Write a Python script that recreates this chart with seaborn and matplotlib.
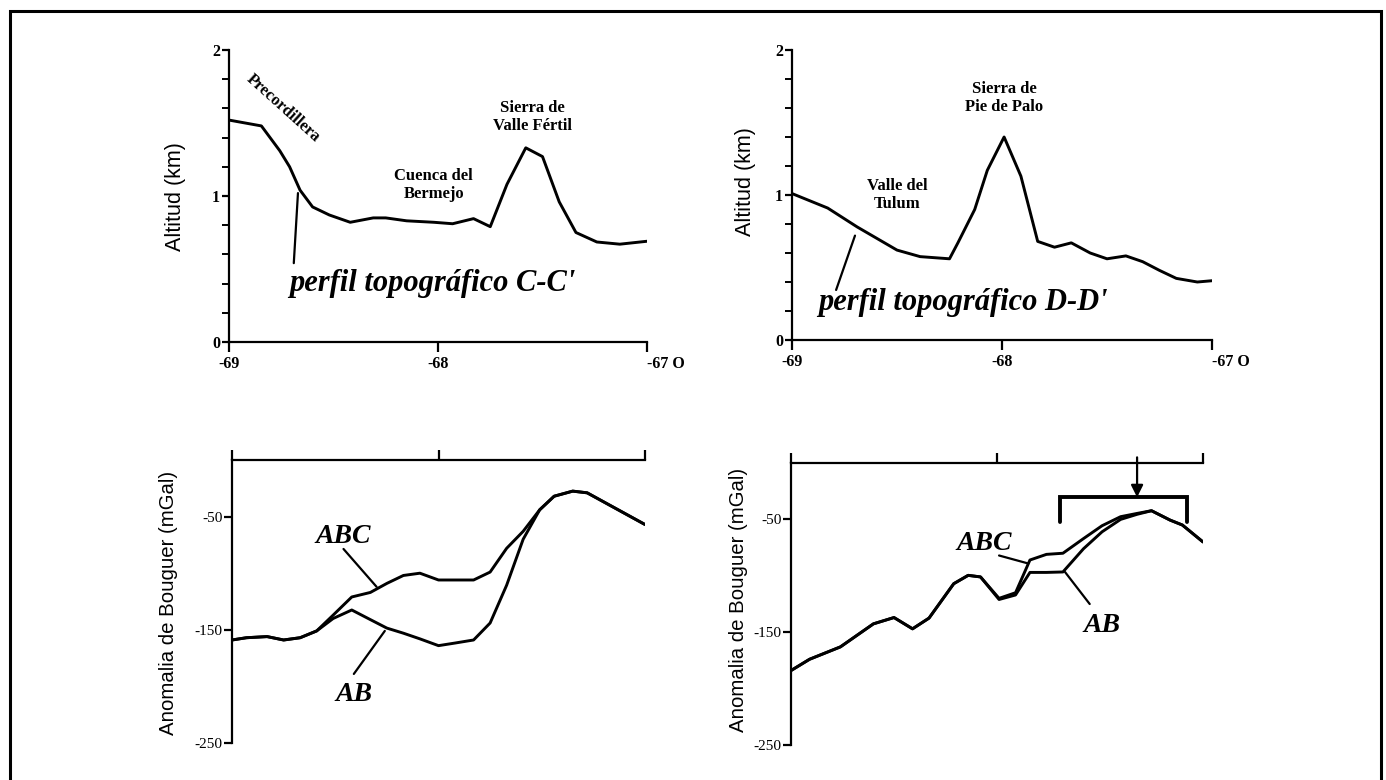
import numpy as np
import pandas as pd
import matplotlib
matplotlib.use("Agg")
import matplotlib.pyplot as plt
import seaborn as sns
from matplotlib.ticker import MultipleLocator, FixedLocator
from matplotlib.font_manager import FontProperties

sns.set_theme(style="ticks")
plt.rcParams["font.family"] = ["Liberation Serif", "DejaVu Serif"]
plt.rcParams.update({
    "axes.linewidth": 1.6,
    "axes.edgecolor": "black",
    "axes.labelcolor": "black",
    "text.color": "black",
    "xtick.color": "black",
    "ytick.color": "black",
    "xtick.major.width": 1.6,
    "ytick.major.width": 1.6,
    "ytick.minor.width": 1.4,
})

# ---- Topographic profile C-C' (longitude, altitude km)
lon_cc = [-69.0, -68.845, -68.757, -68.71, -68.66, -68.60, -68.52, -68.42, -68.31,
          -68.25, -68.15, -68.02, -67.93, -67.83, -67.75, -67.67, -67.58, -67.50,
          -67.42, -67.34, -67.24, -67.13, -67.0]
alt_cc = [1.52, 1.48, 1.31, 1.20, 1.04, 0.925, 0.87, 0.82, 0.85,
          0.85, 0.83, 0.82, 0.81, 0.845, 0.79, 1.08, 1.33, 1.27,
          0.96, 0.75, 0.685, 0.67, 0.69]

# ---- Topographic profile D-D'
lon_dd = [-69.0, -68.83, -68.69, -68.50, -68.39, -68.25, -68.21, -68.13, -68.07,
          -67.99, -67.91, -67.83, -67.75, -67.67, -67.58, -67.50, -67.41, -67.33,
          -67.25, -67.17, -67.07, -66.99]
alt_dd = [1.01, 0.91, 0.78, 0.62, 0.575, 0.56, 0.67, 0.90, 1.17,
          1.40, 1.13, 0.68, 0.64, 0.67, 0.60, 0.56, 0.58, 0.54,
          0.48, 0.425, 0.40, 0.41]

# ---- Bouguer anomaly along C-C' (mGal)
lon_gc = [-69.0, -68.93, -68.83, -68.75, -68.67, -68.59, -68.51, -68.42, -68.33,
          -68.25, -68.17, -68.09, -68.0, -67.92, -67.83, -67.75, -67.67, -67.59,
          -67.51, -67.44, -67.35, -67.28, -67.15, -67.0]
abc_c = [-159, -157, -156, -159, -157, -151, -137, -121, -117,
         -109, -102, -100, -106, -106, -106, -99, -78, -63,
         -44, -32, -27.5, -29, -42, -57]
ab_c = [-159, -157, -156, -159, -157, -151, -140, -132.5, -141,
        -148.5, -153, -158, -164, -161.7, -159, -144, -110.6, -70,
        -44, -32, -27.5, -29, -42, -57]

# ---- Bouguer anomaly along D-D' (mGal)
lon_gd = [-69.0, -68.91, -68.76, -68.60, -68.50, -68.41, -68.33, -68.21, -68.14,
          -68.08, -67.99, -67.91, -67.84, -67.76, -67.68, -67.58, -67.49, -67.40,
          -67.32, -67.25, -67.16, -67.10, -67.0]
abc_d = [-184, -174, -163, -142.6, -137, -147, -137.5, -107, -99.6,
         -101, -120, -115, -86, -81, -80, -67, -55.6, -47.6,
         -44.7, -42.3, -50.6, -55, -70]
ab_d = [-184, -174, -163, -142.6, -137, -147, -137.5, -107, -99.6,
        -101, -121, -117, -97, -97, -96.6, -76, -61, -50,
        -45.5, -42.3, -50.6, -55, -70]

lon_ticks = [-69, -68, -67]
lon_labels = ["-69", "-68", "-67 O"]

W, H = 1386, 780
fig = plt.figure(figsize=(W / 100, H / 100), dpi=100)
fig.patch.set_facecolor("white")


def px_axes(x0, y_top, x1, y_bot):
    return fig.add_axes([x0 / W, 1 - y_bot / H, (x1 - x0) / W, (y_bot - y_top) / H])


ax_tl = px_axes(229, 50, 647, 342)
ax_tr = px_axes(792, 50, 1212, 340)
ax_bl = px_axes(232, 460, 645, 743)
ax_br = px_axes(791, 463, 1203, 745)

LW = 2.1
tick_font = dict(family="Liberation Serif", size=11.5, weight="bold")


def draw_profile(ax, lon, alt):
    df = pd.DataFrame({"lon": lon, "alt": alt})
    sns.lineplot(data=df, x="lon", y="alt", ax=ax, color="black", lw=LW,
                 sort=False, estimator=None)
    ax.set_xlim(-69, -67)
    ax.set_ylim(0, 2)
    ax.set_facecolor("white")
    for s in ("top", "right"):
        ax.spines[s].set_visible(False)
    ax.xaxis.set_major_locator(FixedLocator(lon_ticks))
    ax.set_xticklabels(lon_labels)
    ax.yaxis.set_major_locator(FixedLocator([0, 1, 2]))
    ax.set_yticklabels(["0", "1", "2"])
    ax.yaxis.set_minor_locator(MultipleLocator(0.2))
    ax.tick_params(axis="x", direction="out", length=7, pad=3)
    ax.tick_params(axis="y", which="major", direction="out", length=5, pad=1.5)
    ax.tick_params(axis="y", which="minor", direction="out", length=5)
    for lbl in ax.get_xticklabels() + ax.get_yticklabels():
        lbl.set_fontproperties(FontProperties(**tick_font))
    ax.get_xticklabels()[-1].set_horizontalalignment("left")
    ax.set_xlabel("")
    ax.set_ylabel("")
    ax.grid(False)


def draw_gravity(ax, lon, abc, ab):
    df = pd.DataFrame({"lon": list(lon) * 2, "mgal": list(abc) + list(ab),
                       "serie": ["ABC"] * len(lon) + ["AB"] * len(lon)})
    sns.lineplot(data=df, x="lon", y="mgal", hue="serie", ax=ax,
                 palette={"ABC": "black", "AB": "black"}, lw=LW,
                 sort=False, estimator=None, legend=False)
    ax.set_xlim(-69, -67)
    ax.set_ylim(-250, 0)
    ax.set_facecolor("white")
    for s in ("bottom", "right"):
        ax.spines[s].set_visible(False)
    ax.xaxis.tick_top()
    ax.xaxis.set_major_locator(FixedLocator(lon_ticks))
    ax.tick_params(axis="x", direction="out", length=7, labeltop=False,
                   labelbottom=False)
    ax.yaxis.set_major_locator(FixedLocator([-250, -150, -50]))
    ax.set_yticklabels(["-250", "-150", "-50"])
    ax.tick_params(axis="y", direction="out", length=6, pad=1)
    for lbl in ax.get_yticklabels():
        lbl.set_fontproperties(FontProperties(family="Liberation Serif", size=11))
    ax.set_xlabel("")
    ax.set_ylabel("")
    ax.grid(False)


draw_profile(ax_tl, lon_cc, alt_cc)
draw_profile(ax_tr, lon_dd, alt_dd)
draw_gravity(ax_bl, lon_gc, abc_c, ab_c)
draw_gravity(ax_br, lon_gd, abc_d, ab_d)

place = dict(fontsize=12, fontweight="bold", ha="center", va="center",
             linespacing=1.15, color="black")
title_font = dict(fontsize=22, fontweight="bold", fontstyle="italic",
                  ha="left", va="center", color="black")
curve_font = dict(fontsize=20, fontweight="bold", fontstyle="italic",
                  ha="center", va="center", color="black")
lead = dict(arrowstyle="-", lw=1.6, color="black", shrinkA=0, shrinkB=0)

# Place names on the C-C' profile
ax_tl.text(-68.74, 1.60, "Precordillera", rotation=-42, **place)
ax_tl.text(-68.02, 1.075, "Cuenca del\nBermejo", **place)
ax_tl.text(-67.55, 1.54, "Sierra de\nValle Fértil", **place)
ax_tl.text(-68.71, 0.40, "perfil topográfico C-C'", **title_font)
ax_tl.annotate("", xy=(-68.67, 1.02), xytext=(-68.69, 0.54), arrowprops=lead)

# Place names on the D-D' profile
ax_tr.text(-68.50, 1.00, "Valle del\nTulum", **place)
ax_tr.text(-67.99, 1.67, "Sierra de\nPie de Palo", **place)
ax_tr.text(-68.876, 0.26, "perfil topográfico D-D'", **title_font)
ax_tr.annotate("", xy=(-68.70, 0.72), xytext=(-68.79, 0.345), arrowprops=lead)

# Curve labels, gravity C-C'
ax_bl.text(-68.46, -67.7, "ABC", **curve_font)
ax_bl.annotate("", xy=(-68.30, -112), xytext=(-68.46, -78.6), arrowprops=lead)
ax_bl.text(-68.41, -207.5, "AB", **curve_font)
ax_bl.annotate("", xy=(-68.26, -151), xytext=(-68.41, -189), arrowprops=lead)

# Curve labels, gravity D-D'
ax_br.text(-68.06, -71, "ABC", **curve_font)
ax_br.annotate("", xy=(-67.85, -89), xytext=(-67.99, -82), arrowprops=lead)
ax_br.text(-67.49, -144, "AB", **curve_font)
ax_br.annotate("", xy=(-67.55, -125), xytext=(-67.67, -96.6), arrowprops=lead)

# Bracket marking the anomaly high, with its arrow
br_x0, br_x1, br_top, br_leg = -67.695, -67.08, -30.4, -52
ax_br.plot([br_x0, br_x0, br_x1, br_x1], [br_leg, br_top, br_top, br_leg],
           color="black", lw=2.8, solid_joinstyle="miter")
ax_br.annotate("", xy=(-67.32, br_top), xytext=(-67.32, 5),
               arrowprops=dict(arrowstyle="-|>", lw=1.6, color="black",
                               mutation_scale=18, shrinkA=0, shrinkB=0),
               annotation_clip=False)

# Axis titles
ylab = dict(rotation=90, ha="center", va="center",
            family=["Liberation Sans", "DejaVu Sans"], color="black")
fig.text(175 / W, 1 - 197 / H, "Altitud (km)", fontsize=15.5, **ylab)
fig.text(746 / W, 1 - 182 / H, "Altitud (km)", fontsize=15.5, **ylab)
fig.text(168 / W, 1 - 603 / H, "Anomalia de Bouguer (mGal)", fontsize=14.7, **ylab)
fig.text(739 / W, 1 - 600 / H, "Anomalia de Bouguer (mGal)", fontsize=14.7, **ylab)

# Outer frame
fig.add_artist(plt.Rectangle((10 / W, -0.1), (1381 - 10) / W, 1 - 11 / H + 0.1,
                             transform=fig.transFigure, fill=False,
                             lw=2.2, ec="black"))

fig.savefig("out.png", dpi=100, facecolor="white")
